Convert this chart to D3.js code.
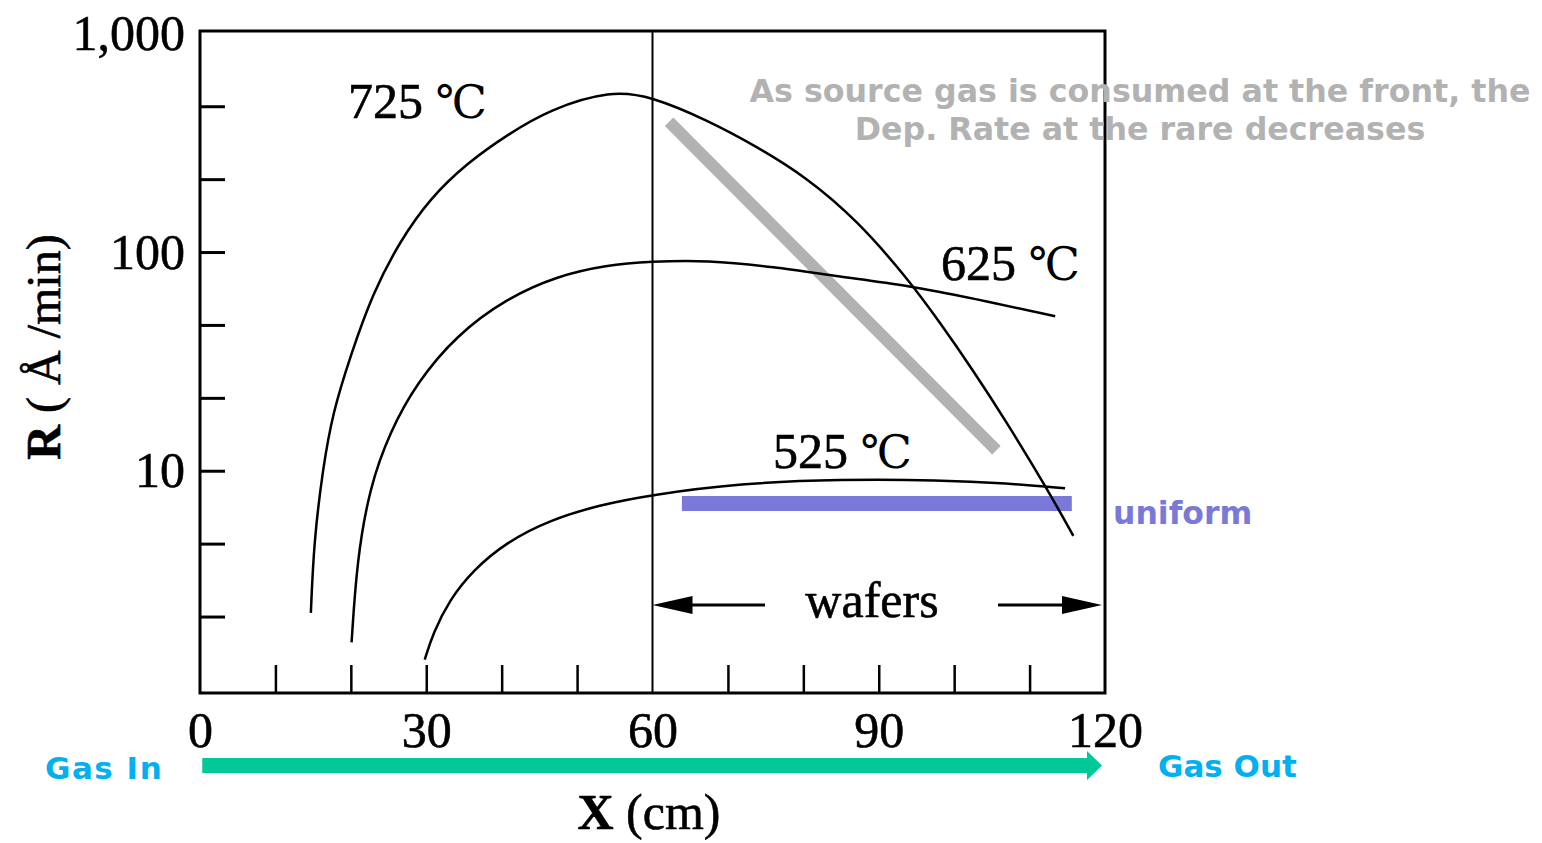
<!DOCTYPE html>
<html>
<head>
<meta charset="utf-8">
<script src="https://cdn.jsdelivr.net/npm/d3@7"></script>
<style>
  html, body { margin: 0; padding: 0; background: #fff; }
  svg { display: block; }
</style>
</head>
<body>
<svg id="chart" width="1542" height="843"></svg>
<script>
// Axis ticks and labels (minor ticks split each decade in thirds)
const xTickValues = [0, 10, 20, 30, 40, 50, 60, 70, 80, 90, 100, 110, 120];
const xTickLabels = [0, 30, 60, 90, 120];
const yTickValues = [2.154, 4.642, 10, 21.54, 46.42, 100, 215.4, 464.2, 1000];
const yTickLabels = [10, 100, 1000];

// Deposition rate R (Å/min) along the tube position X (cm)
const x725 = [14.7, 15.1, 16.3, 17.6, 19.9, 22.9, 26.5, 30.5, 35.4, 40.7, 46.4, 54.5, 59.8, 67.2, 73.8, 80.4, 87.1, 93.7, 98.1, 102.5, 107.0, 112.3, 115.8];
const r725 = [2.24, 4.72, 10.3, 18.4, 33.1, 64.9, 112, 176, 255, 343, 450, 548, 515, 402, 304, 220, 140, 76.6, 47.7, 28.8, 16.6, 8.3, 5.04];

const x625 = [20.1, 20.8, 22.5, 25.2, 28.7, 34.0, 40.7, 47.3, 53.9, 59.8, 67.2, 76.0, 84.9, 93.7, 102.5, 113.4];
const r625 = [1.64, 3.87, 8.44, 15.1, 25.1, 41.7, 61.5, 77.6, 87.2, 90.6, 91.8, 85.7, 77.1, 70.6, 61.4, 50.9];

const x525 = [29.8, 30.9, 33.1, 36.2, 40.7, 46.4, 53.0, 59.7, 71.6, 84.9, 98.1, 107.0, 114.7];
const r525 = [1.37, 1.81, 2.57, 3.51, 4.73, 5.96, 6.97, 7.74, 8.76, 9.14, 9.07, 8.76, 8.31];

// Trend guide for the 725 ℃ run and the uniform band at 525 ℃
const trendX = [62.2, 105.6];
const trendR = [394, 12.4];
const uniformX = [63.9, 115.6];
const uniformR = 7.08;

// Wafer zone and gas flow extent (cm)
const waferZone = [60, 120];
const gasFlow = [0.3, 119.6];

const svg = d3.select("#chart");
const serif = "'Liberation Serif', 'Times New Roman', 'DejaVu Serif', serif";
const sans = "'DejaVu Sans', Verdana, sans-serif";
const ink = 0.6; // slight stroke to give the serif text a heavier print look

const x = d3.scaleLinear().domain([0, 120]).range([200, 1105]);
const y = d3.scaleLog().domain([0.963, 1025]).range([693, 31]);

// Plot frame
svg.append("rect")
  .attr("x", x(0)).attr("y", y(1025))
  .attr("width", x(120) - x(0)).attr("height", y(0.963) - y(1025))
  .attr("fill", "none").attr("stroke", "#000").attr("stroke-width", 3);

// Y axis (log), ticks pointing inward
const yAxis = d3.axisLeft(y)
  .tickValues(yTickValues)
  .tickSizeInner(-25).tickSizeOuter(0).tickPadding(15)
  .tickFormat(d => yTickLabels.includes(d) ? d3.format(",")(d) : "");
svg.append("g")
  .attr("transform", `translate(${x(0)},0)`)
  .call(yAxis)
  .call(g => g.select(".domain").remove())
  .call(g => g.selectAll(".tick line").attr("stroke", "#000").attr("stroke-width", 3))
  .call(g => g.selectAll(".tick").filter(d => d === 1000).select("line").remove())
  .call(g => g.selectAll(".tick text")
    .attr("font-family", serif).attr("font-size", 50).attr("fill", "#000")
    .attr("stroke", "#000").attr("stroke-width", ink));

// X axis, ticks pointing inward
const xAxis = d3.axisBottom(x)
  .tickValues(xTickValues)
  .tickSizeInner(-28).tickSizeOuter(0).tickPadding(18)
  .tickFormat(d => xTickLabels.includes(d) ? String(d) : "");
svg.append("g")
  .attr("transform", `translate(0,${y(0.963)})`)
  .call(xAxis)
  .call(g => g.select(".domain").remove())
  .call(g => g.selectAll(".tick line").attr("stroke", "#000").attr("stroke-width", 2.5))
  .call(g => g.selectAll(".tick").filter(d => d === 0 || d === 60 || d === 120).select("line").remove())
  .call(g => g.selectAll(".tick text")
    .attr("font-family", serif).attr("font-size", 50).attr("fill", "#000")
    .attr("stroke", "#000").attr("stroke-width", ink));

// Start of the wafer zone: full-height line
svg.append("line")
  .attr("x1", x(waferZone[0])).attr("x2", x(waferZone[0]))
  .attr("y1", y(1025)).attr("y2", y(0.963))
  .attr("stroke", "#000").attr("stroke-width", 2);

// Axis titles
const yTitle = svg.append("text")
  .attr("transform", "translate(60,347) rotate(-90)")
  .attr("text-anchor", "middle")
  .attr("font-family", serif).attr("font-size", 48).attr("fill", "#000")
  .attr("stroke", "#000").attr("stroke-width", ink);
yTitle.append("tspan").attr("font-weight", "bold").text("R");
yTitle.append("tspan").text(" ( Å /min)");

const xTitle = svg.append("text")
  .attr("x", 649).attr("y", 829)
  .attr("text-anchor", "middle")
  .attr("font-family", serif).attr("font-size", 50).attr("fill", "#000")
  .attr("stroke", "#000").attr("stroke-width", ink);
xTitle.append("tspan").attr("font-weight", "bold").text("X");
xTitle.append("tspan").text(" (cm)");

// Trend guide (grey) and uniform band (purple)
svg.append("line")
  .attr("x1", x(trendX[0])).attr("y1", y(trendR[0]))
  .attr("x2", x(trendX[1])).attr("y2", y(trendR[1]))
  .attr("stroke", "#b2b2b2").attr("stroke-width", 12);

svg.append("rect")
  .attr("x", x(uniformX[0])).attr("y", y(uniformR) - 7.5)
  .attr("width", x(uniformX[1]) - x(uniformX[0])).attr("height", 15)
  .attr("fill", "#7a79da");

// Rate curves
const series = [
  { xs: x725, rs: r725 },
  { xs: x625, rs: r625 },
  { xs: x525, rs: r525 }
];
const line = d3.line()
  .x(d => x(d[0])).y(d => y(d[1]))
  .curve(d3.curveBasis);
svg.append("g").selectAll("path")
  .data(series)
  .join("path")
  .attr("d", s => line(s.xs.map((v, i) => [v, s.rs[i]])))
  .attr("fill", "none").attr("stroke", "#000").attr("stroke-width", 2.5);

// Curve labels: temperature number, then the ℃ sign in a lighter serif
const curveLabels = [
  { temp: "725", px: 348, py: 118 },
  { temp: "625", px: 941, py: 280 },
  { temp: "525", px: 773, py: 468 }
];
const labels = svg.append("g").selectAll("text")
  .data(curveLabels)
  .join("text")
  .attr("x", d => d.px).attr("y", d => d.py)
  .attr("font-family", serif).attr("font-size", 50).attr("fill", "#000");
labels.append("tspan")
  .attr("stroke", "#000").attr("stroke-width", ink)
  .text(d => d.temp + " ");
labels.append("tspan")
  .attr("font-family", "'DejaVu Serif', serif").attr("font-size", 46)
  .text("℃");

// Wafer zone arrows
const arrowY = 605;
const wz0 = x(waferZone[0]), wz1 = x(waferZone[1]) - 3;
svg.append("line").attr("x1", 690).attr("x2", 765).attr("y1", arrowY).attr("y2", arrowY)
  .attr("stroke", "#000").attr("stroke-width", 3);
svg.append("path")
  .attr("d", `M${wz0},${arrowY} L${wz0 + 40},${arrowY - 9} L${wz0 + 40},${arrowY + 9} Z`)
  .attr("fill", "#000");
svg.append("line").attr("x1", 998).attr("x2", wz1 - 38).attr("y1", arrowY).attr("y2", arrowY)
  .attr("stroke", "#000").attr("stroke-width", 3);
svg.append("path")
  .attr("d", `M${wz1},${arrowY} L${wz1 - 40},${arrowY - 9} L${wz1 - 40},${arrowY + 9} Z`)
  .attr("fill", "#000");
svg.append("text")
  .attr("x", 872).attr("y", 617).attr("text-anchor", "middle")
  .attr("font-family", serif).attr("font-size", 50).attr("fill", "#000")
  .attr("stroke", "#000").attr("stroke-width", ink)
  .text("wafers");

// Gas flow arrow
const g0 = x(gasFlow[0]), g1 = x(gasFlow[1]);
svg.append("path")
  .attr("d", `M${g0},758 L${g1 - 15},758 L${g1 - 15},751 L${g1},765.5 L${g1 - 15},780 L${g1 - 15},773 L${g0},773 Z`)
  .attr("fill", "#00c896");

svg.append("text").attr("x", 45).attr("y", 779)
  .attr("font-family", sans).attr("font-weight", "bold").attr("font-size", 31)
  .attr("fill", "#00b0f0").attr("letter-spacing", 1.5).text("Gas In");
svg.append("text").attr("x", 1158).attr("y", 777)
  .attr("font-family", sans).attr("font-weight", "bold").attr("font-size", 31)
  .attr("fill", "#00b0f0").text("Gas Out");

svg.append("text").attr("x", 1113).attr("y", 524)
  .attr("font-family", sans).attr("font-weight", "bold").attr("font-size", 31.5)
  .attr("fill", "#7a79da").text("uniform");

// Explanatory note
const note = svg.append("text")
  .attr("text-anchor", "middle")
  .attr("font-family", sans).attr("font-weight", "bold").attr("font-size", 31.7)
  .attr("fill", "#b2b2b2");
note.append("tspan").attr("x", 1140).attr("y", 102).text("As source gas is consumed at the front, the");
note.append("tspan").attr("x", 1140).attr("y", 140).text("Dep. Rate at the rare decreases");
</script>
</body>
</html>
